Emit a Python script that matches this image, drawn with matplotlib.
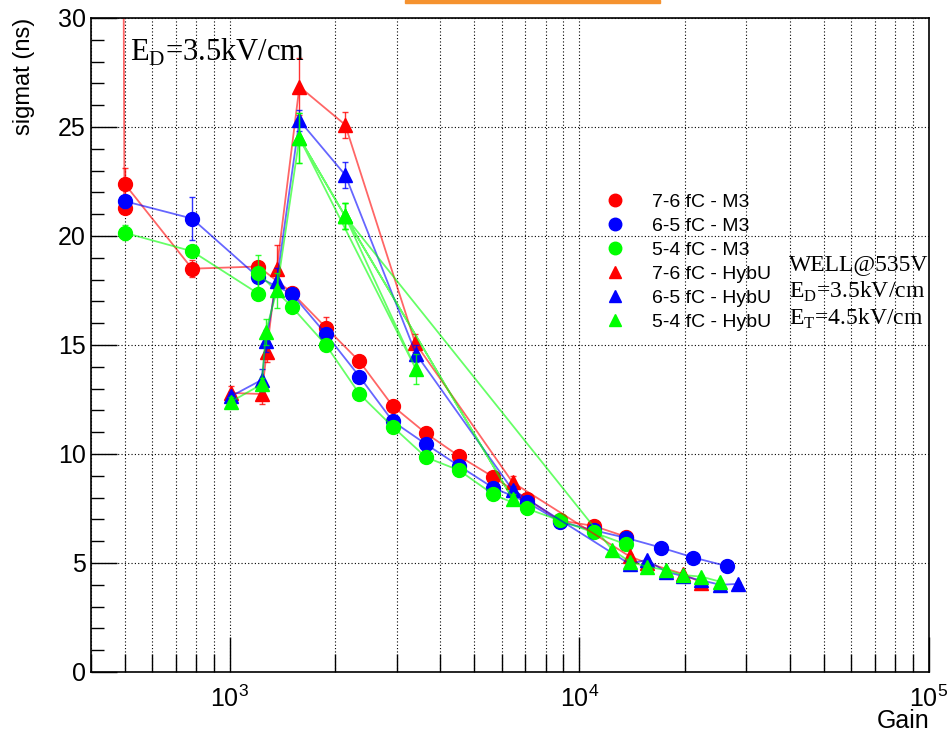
import matplotlib
matplotlib.use("Agg")
import matplotlib.pyplot as plt
from matplotlib.lines import Line2D
from matplotlib.patches import Rectangle
from matplotlib.ticker import LogLocator, MultipleLocator, NullFormatter

plt.rcParams['font.family'] = ['Liberation Sans', 'DejaVu Sans']

# ---- data ----
# M3 (circles)
gain_76_m3 = [493, 500, 500, 780, 1208, 1505, 1884, 2350, 2925, 3640, 4530, 5665, 7060, 8790, 10990, 13610]
sig_76_m3 = [45.0, 21.3, 22.4, 18.5, 18.6, 17.4, 15.8, 14.25, 12.2, 10.95, 9.9, 8.95, 7.95, 6.95, 6.7, 6.2]
err_76_m3 = [0, 0.2, 0.7, 0.4, 0.2, 0.15, 0.5, 0.1, 0.15, 0.1, 0.1, 0.1, 0.1, 0.1, 0.1, 0.1]

gain_65_m3 = [500, 780, 1208, 1505, 1884, 2350, 2925, 3640, 4530, 5665, 7060, 8790, 10990, 13610, 17170, 21200, 26480]
sig_65_m3 = [21.6, 20.8, 18.1, 17.35, 15.5, 13.55, 11.5, 10.45, 9.45, 8.45, 7.8, 6.9, 6.5, 6.15, 5.7, 5.25, 4.85]
err_65_m3 = [0.3, 1.0, 0.2, 0.15, 0.2, 0.1, 0.1, 0.1, 0.1, 0.1, 0.1, 0.1, 0.1, 0.1, 0.1, 0.1, 0.1]

gain_54_m3 = [500, 780, 1208, 1208, 1505, 1884, 2350, 2925, 3640, 4530, 5665, 7060, 8790, 10990, 13610]
sig_54_m3 = [20.15, 19.3, 17.35, 18.3, 16.75, 15.0, 12.75, 11.25, 9.85, 9.25, 8.15, 7.5, 6.95, 6.4, 5.85]
err_54_m3 = [0.35, 0.2, 0.2, 0.85, 0.15, 0.15, 0.1, 0.1, 0.1, 0.1, 0.1, 0.1, 0.1, 0.1, 0.1]

# HybU (triangles)
gain_76_hyb = [1009, 1235, 1276, 1363, 1582, 2139, 3390, 6440, 13930, 15590, 19770, 22350]
sig_76_hyb = [12.8, 12.75, 14.7, 18.5, 26.85, 25.1, 15.1, 8.7, 5.3, 5.0, 4.5, 4.1]
err_76_hyb = [0.3, 0.45, 0.5, 1.1, 1.3, 0.6, 0.4, 0.3, 0.1, 0.1, 0.1, 0.1]

gain_65_hyb = [1009, 1235, 1270, 1363, 1582, 2139, 3406, 6440, 13930, 15590, 17660, 19770, 22350, 25310, 28390]
sig_65_hyb = [12.65, 13.4, 15.2, 17.95, 25.3, 22.8, 14.6, 8.35, 4.95, 5.15, 4.6, 4.4, 4.2, 4.0, 4.04]
err_65_hyb = [0.2, 0.5, 0.5, 0.6, 0.5, 0.6, 0.4, 0.2, 0.1, 0.1, 0.1, 0.1, 0.1, 0.1, 0.1]

gain_54_hyb = [1009, 1235, 1268, 1363, 1582, 3406, 2139, 1582, 2139, 6440, 2139, 12420,
               13930, 15590, 17660, 19770, 22350, 25310]
sig_54_hyb = [12.4, 13.2, 15.6, 17.5, 24.5, 13.9, 20.9, 24.5, 20.9, 7.95, 20.9, 5.6,
              5.06, 4.83, 4.68, 4.45, 4.37, 4.14]
err_54_hyb = [0.2, 0.3, 0.6, 0.8, 1.15, 0.7, 0.6, 1.15, 0.6, 0.2, 0.6, 0.1,
              0.1, 0.1, 0.1, 0.1, 0.1, 0.1]

series = [
    ("7-6 fC - M3", gain_76_m3, sig_76_m3, err_76_m3, "#ff0000", "o"),
    ("6-5 fC - M3", gain_65_m3, sig_65_m3, err_65_m3, "#0000ff", "o"),
    ("5-4 fC - M3", gain_54_m3, sig_54_m3, err_54_m3, "#00ff00", "o"),
    ("7-6 fC - HybU", gain_76_hyb, sig_76_hyb, err_76_hyb, "#ff0000", "^"),
    ("6-5 fC - HybU", gain_65_hyb, sig_65_hyb, err_65_hyb, "#0000ff", "^"),
    ("5-4 fC - HybU", gain_54_hyb, sig_54_hyb, err_54_hyb, "#00ff00", "^"),
]

fig = plt.figure(figsize=(9.47, 7.34), dpi=100)
ax = fig.add_axes([0.0957, 0.0845, 0.8853, 0.891])

handles = []
for label, x, y, e, c, m in series:
    ax.plot(x, y, '-', color=c, lw=1.3, alpha=0.6)
    ax.errorbar(x, y, yerr=e, fmt='none', ecolor=c, elinewidth=1.0, capsize=2.5, alpha=0.8)
    ax.plot(x, y, ls='none', marker=m, ms=10 if m == 'o' else 10.5, color=c, mec=c)
    handles.append(Line2D([], [], ls='none', marker=m, ms=9, color=c))

ax.set_xscale('log')
ax.set_xlim(400, 1e5)
ax.set_ylim(0, 30)
ax.xaxis.set_major_locator(LogLocator(base=10, numticks=10))
ax.xaxis.set_minor_locator(LogLocator(base=10, subs=range(2, 10), numticks=20))
ax.xaxis.set_minor_formatter(NullFormatter())
ax.yaxis.set_major_locator(MultipleLocator(5))
ax.yaxis.set_minor_locator(MultipleLocator(1))

ax.tick_params(which='both', direction='in', top=False, right=False, labelsize=18)
ax.tick_params(axis='x', which='major', length=25, width=1, pad=10)
ax.tick_params(axis='x', which='minor', length=13, width=1)
ax.tick_params(axis='y', which='major', length=19, width=1, pad=3.5)
ax.tick_params(axis='y', which='minor', length=9, width=1)

ax.grid(True, which='both', axis='x', ls=(0, (1, 2)), color='black', lw=0.8)
ax.grid(True, which='major', axis='y', ls=(0, (1, 2)), color='black', lw=0.8)
ax.set_axisbelow(True)
for s in ax.spines.values():
    s.set_linewidth(1.2)

ax.set_xlabel('Gain', fontsize=18, loc='right')
ax.xaxis.set_label_coords(1.0, -0.057)
ax.set_ylabel('sigmat (ns)', fontsize=17, loc='top')
ax.yaxis.set_label_coords(-0.066, 1.0)

ax.text(0.047, 0.934, r'E$_\mathregular{D}$=3.5kV/cm', transform=ax.transAxes,
        family='Liberation Serif', fontsize=22, va='baseline')
ax.text(0.8326, 0.6147, 'WELL@535V', transform=ax.transAxes,
        family='Liberation Serif', fontsize=17, va='baseline')
ax.text(0.8326, 0.5723, r'E$_\mathregular{D}$=3.5kV/cm', transform=ax.transAxes,
        family='Liberation Serif', fontsize=17, va='baseline')
ax.text(0.8326, 0.5306, r'E$_\mathregular{T}$=4.5kV/cm', transform=ax.transAxes,
        family='Liberation Serif', fontsize=17, va='baseline')

ax.legend(handles, [s[0] for s in series], loc='upper left',
          bbox_to_anchor=(0.639, 0.737), bbox_transform=fig.transFigure,
          frameon=False, fontsize=14, handlelength=1.0, handletextpad=1.42,
          borderpad=0, borderaxespad=0, labelspacing=0.33, numpoints=1)

# orange strip of the clipped title box at the top
fig.patches.append(Rectangle((405 / 947, 1 - 3 / 734), 255 / 947, 3 / 734,
                             transform=fig.transFigure, color='#f5922f'))

fig.savefig('out.png', dpi=100)
